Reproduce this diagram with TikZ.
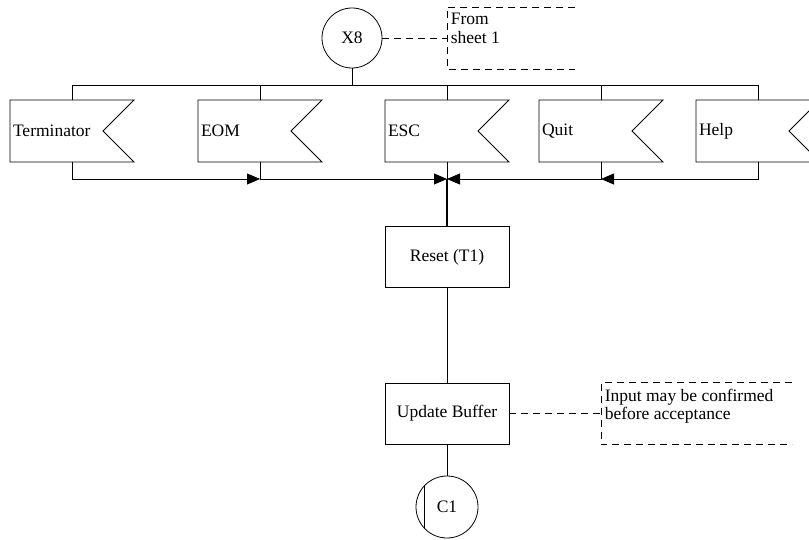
\documentclass[tikz,border=0pt]{standalone}
\usepackage{fontspec}
\setmainfont{Liberation Serif}
\usetikzlibrary{arrows.meta,positioning}

\begin{document}
\begin{tikzpicture}[
  x=1pt, y=-1pt,
  font=\fontsize{17.5}{18.5}\selectfont,
  line width=0.8pt,
  sig/.style={rectangle, minimum width=124pt, minimum height=62pt,
              text width=118pt, align=left, inner xsep=3pt, outer sep=0pt},
  task/.style={draw=black, rectangle, minimum width=124pt, minimum height=61pt,
               align=center, inner sep=2pt},
  conn/.style={draw=black, circle, minimum size=60pt, inner sep=0pt},
  note/.style={rectangle, minimum height=62pt, inner sep=0pt, outer sep=0pt},
  notetext/.style={anchor=north west, align=left, inner xsep=3pt, inner ysep=6pt},
  dashline/.style={dash pattern=on 7pt off 5pt, line width=0.7pt},
  flow/.style={-{Triangle[length=13pt, width=11pt]}},
]
  \useasboundingbox (0,0) rectangle (809,540);

  \node[conn] (x8) at (352,38) {X8};
  \node[note, minimum width=128pt, right=65pt of x8,
        label={[notetext]north west:From\\sheet 1}] (note1) {};
  \draw[dashline] (x8.east) -- (note1.west);
  \draw[dashline] (note1.north east) -- (note1.north west) -- (note1.south west) -- (note1.south east);

  % input signals
  \node[sig] (term) at (72,131) {Terminator};
  \node[sig] (eom) at (260,131) {EOM};
  \node[sig] (esc) at (447,131) {ESC};
  \node[sig] (quit) at (601,131) {Quit};
  \node[sig] (help) at (758,131) {Help};
  \foreach \n in {term,eom,esc,quit,help}
    \draw (\n.north west) -- (\n.north east) -- ([xshift=-31pt]\n.east)
      -- (\n.south east) -- (\n.south west) -- cycle;

  \coordinate (bus) at (352,85);
  \coordinate (join) at (447,179);
  \draw (x8) -- (bus);
  \foreach \n in {term,eom,esc,quit,help}
    \draw (bus) -| (\n.north);

  \draw[flow] (term.south) |- (eom.south |- join);
  \draw[flow] (eom.south) |- (join);
  \draw[flow] (help.south) |- (quit.south |- join);
  \draw[flow] (quit.south) |- (join);
  \draw (esc.south) -- (join);

  \node[task, below=47pt of join] (reset) {Reset (T1)};
  \node[task, below=95pt of reset] (update) {Update Buffer};
  \node[conn, minimum size=62pt, below=31pt of update,
        path picture={\draw ([xshift=-22.5pt]path picture bounding box.north)
          -- ([xshift=-22.5pt]path picture bounding box.south);}] (c1) {C1};
  \draw[line width=1.6pt] (join) -- (reset.north);
  \draw (reset) -- (update);
  \draw (update) -- (c1);

  \node[note, minimum width=191pt, right=92pt of update,
        label={[notetext]north west:Input may be confirmed\\before acceptance}] (note2) {};
  \draw[dashline] (update.east) -- (note2.west);
  \draw[dashline] (note2.north east) -- (note2.north west) -- (note2.south west) -- (note2.south east);
\end{tikzpicture}
\end{document}
